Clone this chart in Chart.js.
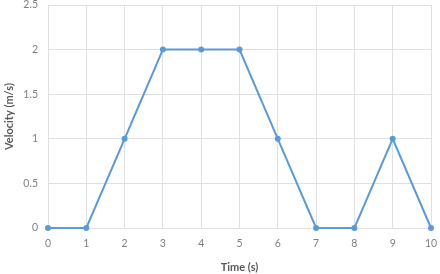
<!DOCTYPE html>
<html><head><meta charset="utf-8">
<script src="https://cdn.jsdelivr.net/npm/chart.js@4"></script>
<style>html,body{margin:0;padding:0;background:#fff}#w{width:440px;height:274px}</style>
</head><body><div id="w"><canvas id="c"></canvas></div>
<script>
const times = [0,1,2,3,4,5,6,7,8,9,10];
const velocity = [0,0,1,2,2,2,1,0,0,1,0];
const yTicks = [0,0.5,1,1.5,2,2.5];
const xTitle = 'Time (s)';
const yTitle = 'Velocity (m/s)';

const pts = times.map((t,i)=>({x:t,y:velocity[i]}));
new Chart(document.getElementById('c'),{
  type:'line',
  data:{datasets:[{data:pts,borderColor:'#5b9bd5',backgroundColor:'#5b9bd5',borderWidth:2,pointRadius:3,pointBorderWidth:0,tension:0,clip:false}]},
  options:{
    responsive:true,maintainAspectRatio:false,animation:false,
    plugins:{legend:{display:false},tooltip:{enabled:false}},
    layout:{padding:{top:5,right:9,left:0,bottom:0}},
    scales:{
      x:{type:'linear',min:0,max:10,
        afterFit:s=>{s.height=46;s.paddingLeft=0;s.paddingRight=0;},
        ticks:{stepSize:1,color:'#7f7f7f',font:{family:'Lato',size:10.5},padding:9},
        grid:{color:'#e0e0e0',lineWidth:1,drawTicks:false},
        border:{display:false},
        title:{display:true,text:xTitle,color:'#595959',font:{family:'Lato',size:11,weight:'bold'},padding:{top:0,bottom:0}}
      },
      y:{min:0,max:2.5,
        afterFit:s=>{s.width=48;s.paddingTop=0;s.paddingBottom=0;},
        afterBuildTicks:s=>{s.ticks=yTicks.map(v=>({value:v}));},
        ticks:{color:'#7f7f7f',font:{family:'Lato',size:10.5},padding:10,callback:v=>String(v)},
        grid:{color:'#e0e0e0',lineWidth:1,drawTicks:false},
        border:{display:false},
        title:{display:true,text:yTitle,color:'#595959',font:{family:'Lato',size:11,weight:'bold'},padding:{top:3,bottom:0}}
      }
    }
  }
});
</script></body></html>
